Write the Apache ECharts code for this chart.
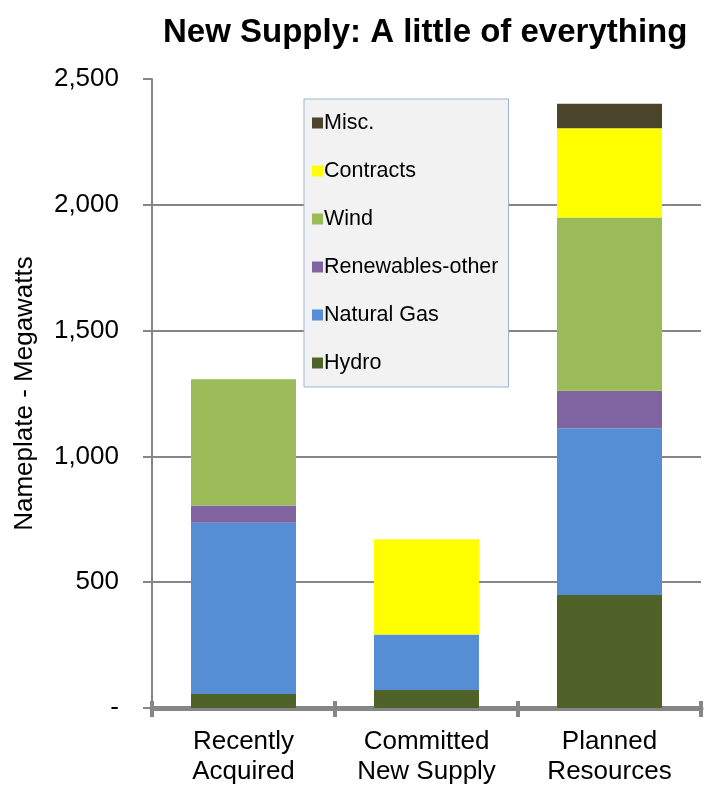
<!DOCTYPE html>
<html>
<head>
<meta charset="utf-8">
<script src="https://cdn.jsdelivr.net/npm/echarts@6/dist/echarts.min.js"></script>
<style>
  html, body { margin: 0; padding: 0; background: #fff; }
  #chart { width: 710px; height: 785px; }
</style>
</head>
<body>
<div id="chart"></div>
<script>
// categories and values (MW)
var categories = ['Recently\nAcquired', 'Committed\nNew Supply', 'Planned\nResources'];
var hydro = [56, 72, 449];
var naturalGas = [680, 220, 663];
var renewablesOther = [69, 0, 149];
var wind = [502, 0, 689];
var contracts = [0, 379, 354];
var misc = [0, 0, 98];
var yTicks = [0, 500, 1000, 1500, 2000, 2500];

var font = 'Liberation Sans, Arial, sans-serif';
var gray = '#868686';

var chart = echarts.init(document.getElementById('chart'), null, { renderer: 'canvas' });

function barSeries(name, data, color) {
  return {
    name: name,
    type: 'bar',
    stack: 'supply',
    barWidth: 105,
    data: data,
    itemStyle: { color: color },
    emphasis: { disabled: true }
  };
}

var option = {
  backgroundColor: '#fff',
  animation: false,
  title: {
    text: 'New Supply: A little of everything',
    left: 158,
    top: 11,
    textStyle: { fontFamily: font, fontSize: 33, fontWeight: 'bold', color: '#000' }
  },
  legend: {
    orient: 'vertical',
    left: 304,
    top: 99,
    padding: [13, 10, 13, 8],
    backgroundColor: '#f2f2f2',
    borderColor: '#9db3d6',
    borderWidth: 1,
    itemWidth: 11,
    itemHeight: 11,
    itemGap: 26,
    icon: 'rect',
    textStyle: { fontFamily: font, fontSize: 21.5, lineHeight: 22, color: '#000', padding: [0, 0, 0, -4] },
    data: ['Misc.', 'Contracts', 'Wind', 'Renewables-other', 'Natural Gas', 'Hydro']
  },
  grid: { left: 152, right: 9, top: 79, bottom: 77, outerBoundsMode: 'none' },
  xAxis: [{
    type: 'category',
    data: categories,
    axisLine: { lineStyle: { color: gray, width: 5 } },
    axisTick: { show: true, length: 9, lineStyle: { color: gray, width: 4 } },
    axisLabel: { fontFamily: font, fontSize: 26, lineHeight: 30, color: '#000', margin: 19 }
  }, {
    type: 'category',
    position: 'bottom',
    data: categories,
    axisLine: { show: false },
    axisTick: { show: true, inside: true, length: 7, lineStyle: { color: gray, width: 4 } },
    axisLabel: { show: false }
  }],
  yAxis: {
    type: 'value',
    min: yTicks[0],
    max: yTicks[yTicks.length - 1],
    interval: 500,
    name: 'Nameplate - Megawatts',
    nameLocation: 'middle',
    nameGap: 114,
    nameTextStyle: { fontFamily: font, fontSize: 26, color: '#000' },
    axisLine: { show: true, lineStyle: { color: gray, width: 2 } },
    axisTick: { show: true, length: 9, lineStyle: { color: gray, width: 2 } },
    axisLabel: {
      fontFamily: font, fontSize: 26, color: '#000', margin: 33,
      formatter: function (v) { return v === 0 ? '-' : v.toLocaleString('en-US'); }
    },
    splitLine: { show: true, showMaxLine: false, lineStyle: { color: gray, width: 2 } }
  },
  series: [
    barSeries('Hydro', hydro, '#4f6228'),
    barSeries('Natural Gas', naturalGas, '#558ed5'),
    barSeries('Renewables-other', renewablesOther, '#8064a2'),
    barSeries('Wind', wind, '#9bbb59'),
    barSeries('Contracts', contracts, '#ffff00'),
    barSeries('Misc.', misc, '#4a442a')
  ]
};

chart.setOption(option);
</script>
</body>
</html>
